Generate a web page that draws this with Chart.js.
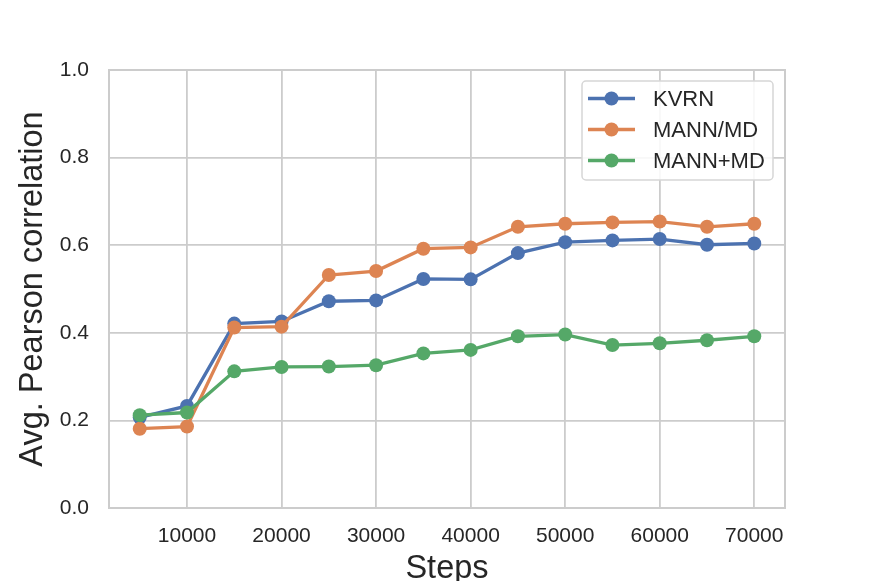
<!DOCTYPE html>
<html>
<head>
<meta charset="utf-8">
<script src="https://cdn.jsdelivr.net/npm/chart.js@4/dist/chart.umd.min.js"></script>
<style>
  html, body { margin: 0; padding: 0; background: #fff; overflow: hidden; }
  canvas { display: block; }
</style>
</head>
<body>
<canvas id="chart" width="872" height="581"></canvas>
<script>
// Data
const steps = [5000, 10000, 15000, 20000, 25000, 30000, 35000, 40000, 45000, 50000, 55000, 60000, 65000, 70000];
const kvrn = [0.207, 0.233, 0.421, 0.426, 0.472, 0.474, 0.523, 0.522, 0.582, 0.607, 0.611, 0.614, 0.601, 0.604];
const mannSlashMd = [0.181, 0.186, 0.412, 0.414, 0.532, 0.541, 0.592, 0.595, 0.642, 0.649, 0.652, 0.654, 0.642, 0.649];
const mannPlusMd = [0.212, 0.218, 0.312, 0.322, 0.323, 0.326, 0.353, 0.361, 0.392, 0.396, 0.372, 0.376, 0.383, 0.392];
const seriesNames = ['KVRN', 'MANN/MD', 'MANN+MD'];
const xTicks = [10000, 20000, 30000, 40000, 50000, 60000, 70000];
const yTicks = [0.0, 0.2, 0.4, 0.6, 0.8, 1.0];

const colors = ['#4C72B0', '#DD8452', '#55A868'];
const textColor = '#262626';
const gridColor = '#cccccc';
const FONT = '"Liberation Sans", Arial, sans-serif';

// matplotlib-style 5% margins on x
const span = steps[steps.length - 1] - steps[0];
const xMin = steps[0] - 0.05 * span;
const xMax = steps[steps.length - 1] + 0.05 * span;

function makeSeries(name, values, i) {
    return {
        label: name,
        data: steps.map((s, k) => ({ x: s, y: values[k] })),
        borderColor: colors[i],
        backgroundColor: colors[i],
        borderWidth: 3.3,
        pointRadius: 7,
        pointBorderWidth: 0,
        pointHoverRadius: 7,
        tension: 0,
        order: 3 - i // later series drawn on top, like matplotlib
    };
}

// axes frame (all four spines) under the lines
const framePlugin = {
    id: 'frame',
    beforeDatasetsDraw(chart) {
        const { ctx, chartArea: a } = chart;
        ctx.save();
        ctx.strokeStyle = gridColor;
        ctx.lineWidth = 2;
        ctx.strokeRect(a.left, a.top, a.right - a.left, a.bottom - a.top);
        ctx.restore();
    }
};

// matplotlib-like legend box in the upper right
const legendPlugin = {
    id: 'mplLegend',
    afterDraw(chart) {
        const { ctx } = chart;
        const box = { x: 582, y: 81, w: 191, h: 99 };
        ctx.save();
        ctx.beginPath();
        ctx.roundRect(box.x, box.y, box.w, box.h, 4);
        ctx.fillStyle = 'rgba(255,255,255,0.85)';
        ctx.fill();
        ctx.strokeStyle = '#d6d6d6';
        ctx.lineWidth = 1.5;
        ctx.stroke();
        ctx.font = '22px ' + FONT;
        ctx.textBaseline = 'middle';
        ctx.textAlign = 'left';
        chart.data.datasets.forEach((ds, i) => {
            const cy = box.y + 17.5 + i * 31;
            ctx.strokeStyle = ds.borderColor;
            ctx.lineWidth = 3.3;
            ctx.beginPath();
            ctx.moveTo(box.x + 6, cy);
            ctx.lineTo(box.x + 53, cy);
            ctx.stroke();
            ctx.fillStyle = ds.backgroundColor;
            ctx.beginPath();
            ctx.arc(box.x + 29.5, cy, 7, 0, Math.PI * 2);
            ctx.fill();
            ctx.fillStyle = textColor;
            ctx.fillText(ds.label, box.x + 71, cy + 1);
        });
        ctx.restore();
    }
};

new Chart(document.getElementById('chart'), {
    type: 'line',
    data: {
        datasets: [
            makeSeries(seriesNames[0], kvrn, 0),
            makeSeries(seriesNames[1], mannSlashMd, 1),
            makeSeries(seriesNames[2], mannPlusMd, 2)
        ]
    },
    options: {
        responsive: false,
        animation: false,
        devicePixelRatio: 1,
        layout: { padding: { top: 70, right: 87, left: 0, bottom: 0 } },
        plugins: {
            legend: { display: false },
            tooltip: { enabled: false }
        },
        scales: {
            x: {
                type: 'linear',
                min: xMin,
                max: xMax,
                afterBuildTicks: axis => { axis.ticks = xTicks.map(v => ({ value: v })); },
                afterFit: axis => { axis.height = 73; },
                grid: { color: gridColor, lineWidth: 1.8, drawTicks: false },
                border: { display: false },
                ticks: {
                    color: textColor,
                    padding: 16,
                    maxRotation: 0,
                    font: { family: FONT, size: 21 },
                    callback: v => String(v)
                },
                title: {
                    display: true,
                    text: 'Steps',
                    color: textColor,
                    font: { family: FONT, size: 32.5, lineHeight: 1 },
                    padding: { top: 0, bottom: -4 }
                }
            },
            y: {
                min: 0,
                max: 1,
                afterBuildTicks: axis => { axis.ticks = yTicks.map(v => ({ value: v })); },
                afterFit: axis => { axis.width = 109; },
                grid: { color: gridColor, lineWidth: 1.8, drawTicks: false },
                border: { display: false },
                ticks: {
                    color: textColor,
                    padding: 20,
                    font: { family: FONT, size: 21 },
                    callback: v => Number(v).toFixed(1)
                },
                title: {
                    display: true,
                    text: 'Avg. Pearson correlation',
                    color: textColor,
                    font: { family: FONT, size: 32.5, lineHeight: 1 },
                    padding: { top: 17, bottom: 0 }
                }
            }
        }
    },
    plugins: [framePlugin, legendPlugin]
});
</script>
</body>
</html>
